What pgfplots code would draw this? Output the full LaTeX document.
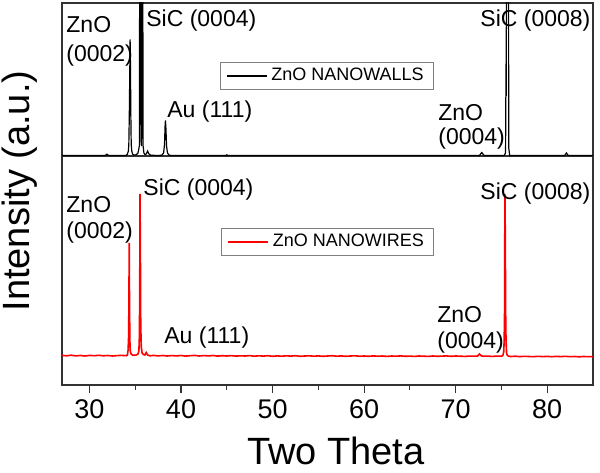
\documentclass[border=0pt]{standalone}
\usepackage{pgfplots}
\pgfplotsset{compat=1.18}
\usepackage{fontspec}
\setmainfont{Liberation Sans}

\definecolor{frame}{RGB}{50,50,50}
\tikzset{lab/.style={font=\fontsize{11.5}{13}\selectfont, anchor=base west, inner sep=0pt}}

\pgfplotstableread{
x y
27 0.5
31.7 0.5
31.9 1.8
32.1 0.5
34.0 0.5
34.15 2
34.25 5
34.3 12
34.35 40
34.4 80
34.44 116.6
34.48 90
34.52 40
34.56 12
34.62 5
34.7 2
34.85 1
35.1 1.2
35.3 3
35.45 10
35.53 400
35.55 400
35.63 15
35.68 10
35.76 400
35.78 400
35.86 10
35.95 3
36.05 1.5
36.2 2
36.35 5
36.5 2
36.7 0.8
37.5 0.5
37.9 0.8
38.1 3
38.2 12
38.26 30
38.3 35.6
38.35 28
38.42 10
38.52 3
38.7 0.8
39 0.5
44.9 0.5
45 1.2
45.1 0.5
72.6 0.5
72.85 3.5
73.1 0.5
75.3 0.5
75.45 3
75.5 92
75.53 60
75.56 400
75.74 400
75.8 8
75.9 0.5
81.9 0.5
82.1 3
82.3 0.5
85 0.5
}\walls

\pgfplotstableread{
x y
27 29.6
27.5 29.2
28 29.8
28.5 29.1
29 29.5
29.5 29.0
30 29.6
30.5 29.3
31 29.7
31.5 29.2
32 29.5
32.5 29.0
33 29.4
33.5 29.6
34 29.3
34.15 30
34.22 35
34.27 47
34.31 80
34.34 142
34.37 90
34.41 45
34.46 34
34.55 31
34.7 30
34.9 29.7
35.1 30
35.3 31
35.4 34
35.45 48
35.49 90
35.52 191
35.56 140
35.6 60
35.66 38
35.75 32
35.9 30.5
36.05 30
36.2 32.5
36.35 30
36.6 29.2
37 29.6
37.5 29.1
38 29.5
38.5 29.0
39 29.4
39.5 29.1
40 29.5
40.5 28.9
41 29.3
41.5 29.6
42 29.0
42.5 29.4
43 29.1
43.5 29.5
44 28.9
44.5 29.3
45 29.0
45.5 29.4
46 28.9
46.5 29.2
47 29.0
47.5 29.4
48 28.8
48.5 29.2
49 28.9
49.5 29.3
50 28.7
50.5 29.1
51 28.8
51.5 29.2
52 28.9
52.5 29.3
53 28.7
53.5 29.0
54 29.2
54.5 28.8
55 29.1
55.5 28.7
56 29.0
56.5 29.3
57 28.8
57.5 29.1
58 28.7
58.5 29.0
59 29.2
59.5 28.8
60 29.0
60.5 28.7
61 29.1
61.5 28.8
62 29.0
62.5 28.6
63 29.0
63.5 28.8
64 29.1
64.5 28.7
65 28.9
65.5 28.6
66 29.0
66.5 28.8
67 28.6
67.5 29.0
68 28.7
68.5 28.9
69 29.1
69.5 28.7
70 29.0
70.5 28.8
71 28.6
71.5 28.9
72 28.8
72.4 29.0
72.6 31.0
72.8 29.1
73 28.8
73.5 28.9
74 28.6
74.5 28.9
75 28.8
75.15 29.5
75.25 33
75.3 45
75.34 72
75.38 191
75.42 150
75.46 72
75.5 45
75.56 32
75.65 29.5
75.8 28.8
76 28.5
76.5 28.8
77 28.4
77.5 28.7
78 28.5
78.5 28.3
79 28.7
79.5 28.4
80 28.6
80.5 28.3
81 28.6
81.5 28.4
82 28.7
82.5 28.3
83 28.5
83.5 28.2
84 28.5
84.5 28.3
85 28.4
}\wires

\begin{document}
\begin{tikzpicture}
\useasboundingbox (-31pt,-43.5pt) rectangle (269pt,192.5pt);
\pgfplotsset{
  every axis/.append style={
    scale only axis, width=265.5pt,
    xmin=27, xmax=85, ymin=0,
    axis line style={frame, line width=0.6pt},
    ytick=\empty,
    legend cell align=left,
    legend image code/.code={\draw[#1] (0pt,0pt) -- (20pt,0pt);},
    legend style={draw=gray, line width=0.5pt, font=\fontsize{9}{10}\selectfont,
      anchor=center, inner xsep=3pt, inner ysep=1pt},
  },
}
% lower panel: nanowires
\begin{axis}[
  name=bot, at={(0,0)}, anchor=south west,
  height=114.5pt, ymax=229,
  xtick={30,40,...,80}, minor x tick num=1,
  xtick pos=bottom, tick align=outside,
  major tick length=4pt, minor tick length=2.5pt,
  tick style={frame, line width=0.6pt},
  ticklabel style={font=\fontsize{13.5}{15}\selectfont},
  /pgf/number format/assume math mode=true,
  legend style={at={(0.5,0.624)}},
]
\addplot[red, line width=0.8pt] table[x=x, y=y] {\wires};
\addlegendentry{ZnO NANOWIRES}
\node[lab] at (axis cs:27.44,173) {ZnO};
\node[lab] at (axis cs:27.44,147) {(0002)};
\node[lab] at (axis cs:35.85,190) {SiC (0004)};
\node[lab] at (axis cs:38.14,42) {Au (111)};
\node[lab] at (axis cs:67.96,63) {ZnO};
\node[lab] at (axis cs:67.96,37) {(0004)};
\node[lab] at (axis cs:72.66,186) {SiC (0008)};
\end{axis}
% upper panel: nanowalls
\begin{axis}[
  name=top, at={(0,114.5pt)}, anchor=south west,
  height=76.5pt, ymax=153,
  xtick=\empty,
  legend style={at={(0.499,0.523)}},
]
\addplot[black, line width=0.6pt] table[x=x, y=y] {\walls};
\addlegendentry{ZnO NANOWALLS}
\node[lab] at (axis cs:27.44,123) {ZnO};
\node[lab] at (axis cs:27.44,94) {(0002)};
\node[lab] at (axis cs:36.17,129) {SiC (0004)};
\node[lab] at (axis cs:38.47,39) {Au (111)};
\node[lab] at (axis cs:68.07,36) {ZnO};
\node[lab] at (axis cs:68.07,11) {(0004)};
\node[lab] at (axis cs:72.66,129) {SiC (0008)};
\end{axis}
\node[rotate=90, font=\fontsize{19}{21}\selectfont] at (-21pt,97pt) {Intensity (a.u.)};
\node[anchor=base, font=\fontsize{19}{21}\selectfont] at (137pt,-39.5pt) {Two Theta};
\end{tikzpicture}
\end{document}
